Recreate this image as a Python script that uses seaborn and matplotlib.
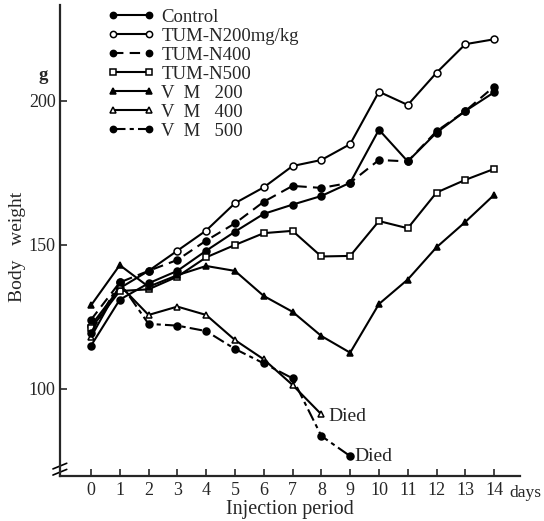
import numpy as np
import pandas as pd
import matplotlib
matplotlib.use("Agg")
import matplotlib.pyplot as plt
import matplotlib.transforms as mtransforms
import seaborn as sns

# injection days
days = list(range(15))

control = [115, 131, 136.7, 141, 148, 154.6, 160.8, 164, 167, 171.6, 190, 179, 189, 196.5, 203]
tumn200 = [122, 135, 141, 148, 155, 164.5, 170, 177.4, 179.5, 185, 203.2, 198.6, 209.8, 219.7, 221.4]
tumn400 = [124, 137, 141, 144.8, 151.5, 157.5, 165, 170.5, 169.8, 171.6, 179.5, 179, 189.5, 196.5, 205]
tumn500 = [121, 134, 134.6, 139, 145.7, 150, 154.1, 154.9, 146, 146.2, 158.3, 155.8, 168.2, 172.6, 176.4]
vm200 = [129, 143, 135.5, 139.5, 142.7, 141, 132.3, 126.8, 118.4, 112.6, 129.5, 138, 149.2, 158, 167.4]
vm400 = [118, 136, 125.7, 128.6, 125.7, 117, 110.3, 101.4, 91.2]
vm500 = [119.5, 137, 122.6, 122, 120.1, 113.9, 108.9, 103.7, 83.7, 76.7]

labels = ["Control", "TUM-N200mg/kg", "TUM-N400", "TUM-N500",
          "V  M   200", "V  M   400", "V  M   500"]
series = [control, tumn200, tumn400, tumn500, vm200, vm400, vm500]

sns.set_style("ticks")
plt.rcParams["font.family"] = ["Liberation Serif", "DejaVu Serif"]

fig = plt.figure(figsize=(5.44, 5.21), dpi=100)
ax = fig.add_axes([0.110, 0.0864, 0.846, 0.904])

# marker, fill, dash pattern for each group
styles = [
    ("o", "black", None),
    ("o", "white", None),
    ("o", "black", (5, 3)),
    ("s", "white", None),
    ("^", "black", None),
    ("^", "white", None),
    ("o", "black", (6, 2, 2, 2)),
]

for lab, vals, (mk, fc, dash) in zip(labels, series, styles):
    df = pd.DataFrame({"day": days[:len(vals)], "weight": vals})
    sns.lineplot(x="day", y="weight", data=df, ax=ax, color="black",
                 marker=mk, markersize=5, markerfacecolor=fc,
                 markeredgecolor="black", markeredgewidth=1.1,
                 linewidth=1.5, label=lab)
    line = ax.get_lines()[-1]
    if dash is not None:
        line.set_dashes(dash)
    else:
        line.set_linestyle("-")

leg = ax.legend(handles=ax.get_lines(), labels=labels, loc="upper left",
                bbox_to_anchor=(0.088, 1.008), frameon=False, numpoints=2,
                handlelength=2.5, handletextpad=0.35, labelspacing=0.1,
                fontsize=13.5, borderaxespad=0, markerscale=0.9)

ax.set_xlim(-1.08, 14.9)
ax.set_ylim(69.8, 233.3)
ax.set_xticks(days)
ax.set_yticks([100, 150, 200])
ax.tick_params(direction="in", length=5, width=1.2, labelsize=13, pad=4)
ax.tick_params(axis="y", pad=3)

for s in ["top", "right"]:
    ax.spines[s].set_visible(False)
for s in ["left", "bottom"]:
    ax.spines[s].set_linewidth(1.6)

ax.set_xlabel("Injection period", fontsize=14.5, labelpad=1)
ax.set_ylabel("Body   weight", fontsize=14, labelpad=2)
ax.yaxis.set_label_coords(-0.073, 0.486)

ax.text(-0.025, 0.851, "g", transform=ax.transAxes, fontsize=13.5,
        ha="right", va="center", fontweight="bold")
trans = mtransforms.blended_transform_factory(ax.transData, ax.transAxes)
ax.text(14.52, -0.036, "days", transform=trans, fontsize=12.5,
        ha="left", va="center", clip_on=False)
ax.text(8.25, vm400[-1] - 0.8, "Died", fontsize=14, va="center")
ax.text(9.15, vm500[-1] - 0.3, "Died", fontsize=14, va="center")

# axis break marks on the y axis
for dy in (0.008, 0.021):
    ax.plot([-0.015, 0.015], [dy - 0.006, dy + 0.006], transform=ax.transAxes,
            color="black", lw=1.2, clip_on=False)

fig.savefig("out.png", dpi=100)
